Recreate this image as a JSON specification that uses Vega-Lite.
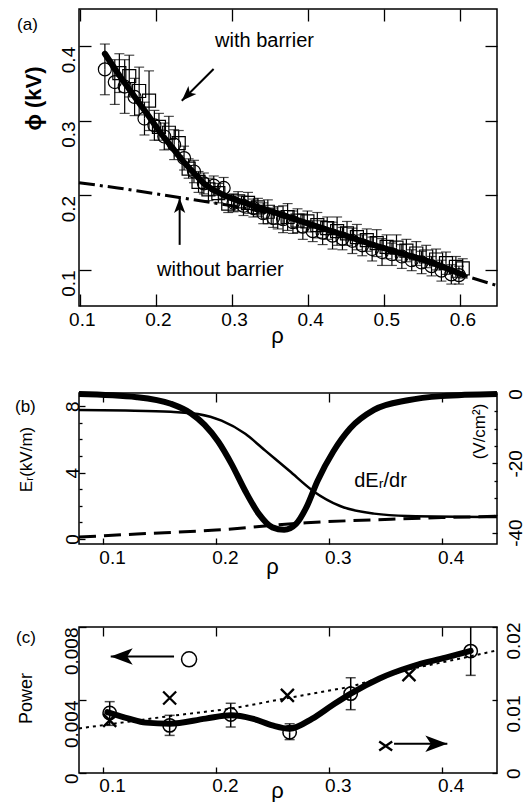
{
  "$schema": "https://vega.github.io/schema/vega-lite/v6.json",
  "padding": {"left": 14, "top": 7, "right": 0, "bottom": 0},
  "config": {
    "font": "Liberation Sans",
    "view": {"stroke": "black", "strokeWidth": 1.5},
    "axis": {"grid": false, "domain": false, "tickColor": "black", "tickWidth": 1.3, "labelColor": "black", "titleColor": "black", "labelFontSize": 19, "labelFont": "Liberation Sans", "titleFont": "Liberation Sans", "titleFontWeight": "normal", "labelOverlap": false, "labelFlush": false},
    "text": {"font": "Liberation Sans", "color": "black"}
  },
  "datasets": {
    "a_pts": [
      {"x":0.133,"y":0.369,"lo":0.335,"hi":0.403,"s":"c"},
      {"x":0.146,"y":0.352,"lo":0.322,"hi":0.382,"s":"c"},
      {"x":0.159,"y":0.346,"lo":0.310,"hi":0.382,"s":"c"},
      {"x":0.172,"y":0.332,"lo":0.307,"hi":0.357,"s":"c"},
      {"x":0.185,"y":0.303,"lo":0.281,"hi":0.325,"s":"c"},
      {"x":0.198,"y":0.294,"lo":0.274,"hi":0.314,"s":"c"},
      {"x":0.211,"y":0.279,"lo":0.261,"hi":0.297,"s":"c"},
      {"x":0.224,"y":0.268,"lo":0.248,"hi":0.288,"s":"c"},
      {"x":0.237,"y":0.250,"lo":0.234,"hi":0.266,"s":"c"},
      {"x":0.250,"y":0.232,"lo":0.217,"hi":0.247,"s":"c"},
      {"x":0.263,"y":0.216,"lo":0.202,"hi":0.230,"s":"c"},
      {"x":0.276,"y":0.213,"lo":0.200,"hi":0.226,"s":"c"},
      {"x":0.289,"y":0.210,"lo":0.196,"hi":0.224,"s":"c"},
      {"x":0.302,"y":0.190,"lo":0.178,"hi":0.202,"s":"c"},
      {"x":0.315,"y":0.186,"lo":0.173,"hi":0.199,"s":"c"},
      {"x":0.328,"y":0.183,"lo":0.171,"hi":0.195,"s":"c"},
      {"x":0.341,"y":0.176,"lo":0.162,"hi":0.190,"s":"c"},
      {"x":0.354,"y":0.170,"lo":0.157,"hi":0.183,"s":"c"},
      {"x":0.367,"y":0.168,"lo":0.150,"hi":0.186,"s":"c"},
      {"x":0.380,"y":0.164,"lo":0.149,"hi":0.179,"s":"c"},
      {"x":0.393,"y":0.158,"lo":0.141,"hi":0.175,"s":"c"},
      {"x":0.406,"y":0.152,"lo":0.138,"hi":0.166,"s":"c"},
      {"x":0.419,"y":0.150,"lo":0.134,"hi":0.166,"s":"c"},
      {"x":0.432,"y":0.146,"lo":0.128,"hi":0.164,"s":"c"},
      {"x":0.445,"y":0.142,"lo":0.127,"hi":0.157,"s":"c"},
      {"x":0.458,"y":0.139,"lo":0.122,"hi":0.156,"s":"c"},
      {"x":0.471,"y":0.133,"lo":0.119,"hi":0.147,"s":"c"},
      {"x":0.484,"y":0.128,"lo":0.112,"hi":0.144,"s":"c"},
      {"x":0.497,"y":0.124,"lo":0.106,"hi":0.142,"s":"c"},
      {"x":0.510,"y":0.121,"lo":0.106,"hi":0.136,"s":"c"},
      {"x":0.523,"y":0.118,"lo":0.102,"hi":0.134,"s":"c"},
      {"x":0.536,"y":0.113,"lo":0.099,"hi":0.127,"s":"c"},
      {"x":0.549,"y":0.110,"lo":0.095,"hi":0.125,"s":"c"},
      {"x":0.562,"y":0.105,"lo":0.092,"hi":0.118,"s":"c"},
      {"x":0.575,"y":0.099,"lo":0.085,"hi":0.113,"s":"c"},
      {"x":0.588,"y":0.094,"lo":0.081,"hi":0.107,"s":"c"},
      {"x":0.598,"y":0.093,"lo":0.081,"hi":0.105,"s":"c"},
      {"x":0.152,"y":0.364,"lo":0.338,"hi":0.390,"s":"s"},
      {"x":0.165,"y":0.360,"lo":0.332,"hi":0.388,"s":"s"},
      {"x":0.178,"y":0.340,"lo":0.308,"hi":0.372,"s":"s"},
      {"x":0.191,"y":0.327,"lo":0.287,"hi":0.367,"s":"s"},
      {"x":0.204,"y":0.292,"lo":0.274,"hi":0.310,"s":"s"},
      {"x":0.217,"y":0.284,"lo":0.262,"hi":0.306,"s":"s"},
      {"x":0.230,"y":0.270,"lo":0.253,"hi":0.287,"s":"s"},
      {"x":0.243,"y":0.236,"lo":0.223,"hi":0.249,"s":"s"},
      {"x":0.256,"y":0.218,"lo":0.204,"hi":0.232,"s":"s"},
      {"x":0.269,"y":0.208,"lo":0.193,"hi":0.223,"s":"s"},
      {"x":0.282,"y":0.203,"lo":0.190,"hi":0.216,"s":"s"},
      {"x":0.295,"y":0.189,"lo":0.177,"hi":0.201,"s":"s"},
      {"x":0.308,"y":0.192,"lo":0.179,"hi":0.205,"s":"s"},
      {"x":0.321,"y":0.190,"lo":0.176,"hi":0.204,"s":"s"},
      {"x":0.334,"y":0.184,"lo":0.172,"hi":0.196,"s":"s"},
      {"x":0.347,"y":0.178,"lo":0.162,"hi":0.194,"s":"s"},
      {"x":0.360,"y":0.170,"lo":0.155,"hi":0.185,"s":"s"},
      {"x":0.373,"y":0.171,"lo":0.153,"hi":0.189,"s":"s"},
      {"x":0.386,"y":0.166,"lo":0.150,"hi":0.182,"s":"s"},
      {"x":0.399,"y":0.165,"lo":0.151,"hi":0.179,"s":"s"},
      {"x":0.412,"y":0.160,"lo":0.143,"hi":0.177,"s":"s"},
      {"x":0.425,"y":0.156,"lo":0.141,"hi":0.171,"s":"s"},
      {"x":0.438,"y":0.152,"lo":0.133,"hi":0.171,"s":"s"},
      {"x":0.451,"y":0.149,"lo":0.133,"hi":0.165,"s":"s"},
      {"x":0.464,"y":0.144,"lo":0.127,"hi":0.161,"s":"s"},
      {"x":0.477,"y":0.140,"lo":0.125,"hi":0.155,"s":"s"},
      {"x":0.490,"y":0.136,"lo":0.118,"hi":0.154,"s":"s"},
      {"x":0.503,"y":0.131,"lo":0.115,"hi":0.147,"s":"s"},
      {"x":0.516,"y":0.130,"lo":0.113,"hi":0.147,"s":"s"},
      {"x":0.529,"y":0.126,"lo":0.111,"hi":0.141,"s":"s"},
      {"x":0.542,"y":0.122,"lo":0.106,"hi":0.138,"s":"s"},
      {"x":0.555,"y":0.118,"lo":0.103,"hi":0.133,"s":"s"},
      {"x":0.568,"y":0.114,"lo":0.100,"hi":0.128,"s":"s"},
      {"x":0.581,"y":0.109,"lo":0.094,"hi":0.124,"s":"s"},
      {"x":0.594,"y":0.104,"lo":0.090,"hi":0.118,"s":"s"},
      {"x":0.603,"y":0.102,"lo":0.089,"hi":0.115,"s":"s"}
    ],
    "a_thick": [
      {"x":0.133,"y":0.390},{"x":0.15,"y":0.364},{"x":0.173,"y":0.331},{"x":0.19,"y":0.307},{"x":0.2045,"y":0.286},{"x":0.22,"y":0.266},{"x":0.2357,"y":0.246},{"x":0.25,"y":0.230},{"x":0.2624,"y":0.2167},{"x":0.28,"y":0.205},{"x":0.298,"y":0.1965},{"x":0.32,"y":0.189},{"x":0.352,"y":0.1785},{"x":0.385,"y":0.167},{"x":0.4185,"y":0.156},{"x":0.452,"y":0.145},{"x":0.4854,"y":0.1336},{"x":0.52,"y":0.123},{"x":0.552,"y":0.1134},{"x":0.58,"y":0.103},{"x":0.6036,"y":0.0932}
    ],
    "a_dd": [
      {"x":0.099,"y":0.217},{"x":0.15,"y":0.210},{"x":0.2,"y":0.202},{"x":0.25,"y":0.194},{"x":0.3,"y":0.186},{"x":0.35,"y":0.176},{"x":0.4,"y":0.162},{"x":0.45,"y":0.147},{"x":0.5,"y":0.130},{"x":0.55,"y":0.112},{"x":0.6,"y":0.094},{"x":0.648,"y":0.079}
    ],
    "a_txt": [
      {"x":0.3426,"y":0.4076,"label":"with barrier"},
      {"x":0.2847,"y":0.0995,"label":"without barrier"}
    ],
    "a_lab": [{"x":0.0176,"y":0.4218,"label":"(a)"}],
    "a_arr": [
      {"x":0.234,"y":0.327,"x2":0.2758,"y2":0.3695,"k":"wb"},
      {"x":0.2312,"y":0.1965,"x2":0.2312,"y2":0.1336,"k":"wob"}
    ],
    "b_thick": [
      {"x":0.0787,"y":0},{"x":0.13,"y":-0.9},{"x":0.16,"y":-2.8},{"x":0.178,"y":-5.6},{"x":0.19,"y":-8.9},{"x":0.202,"y":-13.7},{"x":0.214,"y":-20.3},{"x":0.226,"y":-28},{"x":0.238,"y":-34.6},{"x":0.25,"y":-38.5},{"x":0.2605,"y":-39.2},{"x":0.271,"y":-37.5},{"x":0.28,"y":-32.8},{"x":0.29,"y":-25.1},{"x":0.304,"y":-16.6},{"x":0.319,"y":-9.9},{"x":0.34,"y":-4.6},{"x":0.37,"y":-1.8},{"x":0.40,"y":-0.6},{"x":0.449,"y":0}
    ],
    "b_thin": [
      {"x":0.0787,"y":7.77},{"x":0.12,"y":7.74},{"x":0.16,"y":7.67},{"x":0.184,"y":7.53},{"x":0.205,"y":7.13},{"x":0.226,"y":6.34},{"x":0.244,"y":5.31},{"x":0.265,"y":4.11},{"x":0.286,"y":2.90},{"x":0.31,"y":1.99},{"x":0.34,"y":1.53},{"x":0.37,"y":1.39},{"x":0.449,"y":1.33}
    ],
    "b_dash": [
      {"x":0.0787,"y":0.12},{"x":0.13,"y":0.30},{"x":0.2,"y":0.54},{"x":0.28,"y":0.98},{"x":0.355,"y":1.19},{"x":0.4,"y":1.29},{"x":0.449,"y":1.37}
    ],
    "b_txt": [{"x":0.3458,"y":3.5,"label":"dEᵣ/dr"}],
    "b_lab": [{"x":0.0220,"y":7.655,"label":"(b)"}],
    "c_pts": [
      {"x":0.1059,"y":0.00329,"lo":0.00261,"hi":0.00391},
      {"x":0.159,"y":0.00261,"lo":0.00206,"hi":0.00316},
      {"x":0.2131,"y":0.00321,"lo":0.00252,"hi":0.00382},
      {"x":0.2653,"y":0.00223,"lo":0.00183,"hi":0.0027},
      {"x":0.3194,"y":0.00435,"lo":0.00347,"hi":0.00522},
      {"x":0.4257,"y":0.00668,"lo":0.00535,"hi":0.0082}
    ],
    "c_thick": [
      {"x":0.1038,"y":0.00334},{"x":0.123,"y":0.00298},{"x":0.1378,"y":0.00276},{"x":0.159,"y":0.0027},{"x":0.1909,"y":0.00298},{"x":0.2131,"y":0.00316},{"x":0.2323,"y":0.00298},{"x":0.25,"y":0.00261},{"x":0.2653,"y":0.00243},{"x":0.2854,"y":0.00298},{"x":0.3031,"y":0.00371},{"x":0.3194,"y":0.00435},{"x":0.3445,"y":0.00517},{"x":0.374,"y":0.00585},{"x":0.4035,"y":0.00632},{"x":0.4257,"y":0.00669}
    ],
    "c_x": [
      {"x":0.1059,"y":0.00721},{"x":0.159,"y":0.01027},{"x":0.2633,"y":0.01064},{"x":0.371,"y":0.01347}
    ],
    "c_dot": [
      {"x":0.0787,"y":0.0061},{"x":0.159,"y":0.0078},{"x":0.213,"y":0.0088},{"x":0.265,"y":0.0103},{"x":0.319,"y":0.0118},{"x":0.371,"y":0.0142},{"x":0.426,"y":0.0160},{"x":0.449,"y":0.0168}
    ],
    "c_arrL": [{"x":0.1068,"y":0.00639,"x2":0.1629,"y2":0.00639}],
    "c_legO": [{"x":0.1762,"y":0.00623}],
    "c_arrR": [{"x":0.405,"y":0.00402,"x2":0.3578,"y2":0.00402}],
    "c_legX": [{"x":0.3504,"y":0.0037}],
    "c_lab": [{"x":0.0229,"y":0.007123,"label":"(c)"}]
  },
  "spacing": 87,
  "bounds": "flush",
  "vconcat": [
    {
      "width": 418,
      "height": 297,
      "layer": [
        {
          "encoding": {
            "x": {"field": "x", "type": "quantitative", "scale": {"domain": [0.099, 0.648], "nice": false, "zero": false},
              "axis": {"values": [0.1, 0.2, 0.3, 0.4, 0.5, 0.6], "format": ".1f", "tickSize": -12, "labelPadding": 16.6, "labelOffset": 2, "labelBaseline": "top", "title": "ρ", "titleX": 198, "titleY": 36, "titleAlign": "center", "titleBaseline": "alphabetic", "titleFontSize": 22}},
            "y": {"field": "y", "type": "quantitative", "scale": {"domain": [0.0516, 0.45], "nice": false, "zero": false},
              "axis": {"values": [0.1, 0.2, 0.3, 0.4], "format": ".1f", "labelAngle": 270, "labelAlign": "right", "labelBaseline": "alphabetic", "tickSize": -12, "labelPadding": 17, "title": "ϕ (kV)", "titleX": -46, "titleY": 89, "titleAngle": 270, "titleAlign": "center", "titleBaseline": "middle", "titleFontSize": 22, "titleFontWeight": "bold"}}
          },
          "layer": [
            {"data": {"name": "a_pts"}, "mark": {"type": "rule", "color": "black", "strokeWidth": 1.2},
              "encoding": {"y2": {"field": "hi"}}},
            {"data": {"name": "a_pts"}, "mark": {"type": "rule", "color": "black", "strokeWidth": 1.2},
              "encoding": {"y2": {"field": "lo"}}},
            {"data": {"name": "a_pts"}, "transform": [{"fold": ["lo", "hi"], "as": ["k", "y"]}],
              "mark": {"type": "tick", "orient": "horizontal", "size": 10, "thickness": 1.2, "color": "black"}, "encoding": {}},
            {"data": {"name": "a_pts"}, "mark": {"type": "point", "filled": false, "color": "black", "strokeWidth": 1.2, "size": 169, "opacity": 1},
              "encoding": {"shape": {"field": "s", "type": "nominal", "scale": {"domain": ["c", "s"], "range": ["circle", "square"]}, "legend": null}}},
            {"data": {"name": "a_dd"}, "mark": {"type": "line", "color": "black", "strokeWidth": 3, "strokeDash": [16, 5, 3, 5]}, "encoding": {}},
            {"data": {"name": "a_thick"}, "mark": {"type": "line", "color": "black", "strokeWidth": 6, "interpolate": "monotone", "strokeCap": "round"}, "encoding": {}},
            {"data": {"name": "a_txt"}, "mark": {"type": "text", "fontSize": 20, "align": "center", "baseline": "middle"},
              "encoding": {"text": {"field": "label"}}},
            {"data": {"name": "a_lab"}, "mark": {"type": "text", "fontSize": 17, "align": "left", "baseline": "alphabetic"},
              "encoding": {"text": {"field": "label"}}},
            {"data": {"name": "a_arr"}, "mark": {"type": "rule", "color": "black", "strokeWidth": 2},
              "encoding": {"x2": {"field": "x2"}, "y2": {"field": "y2"}}},
            {"data": {"name": "a_arr"}, "transform": [{"filter": "datum.k == 'wb'"}],
              "mark": {"type": "point", "shape": "M0,0L0.75,2L0,1.5L-0.75,2Z", "filled": true, "color": "black", "size": 225, "angle": 225, "strokeWidth": 0, "opacity": 1}, "encoding": {}},
            {"data": {"name": "a_arr"}, "transform": [{"filter": "datum.k == 'wob'"}],
              "mark": {"type": "point", "shape": "M0,0L0.75,2L0,1.5L-0.75,2Z", "filled": true, "color": "black", "size": 225, "angle": 0, "strokeWidth": 0, "opacity": 1}, "encoding": {}}
          ]
        },
        {
          "data": {"values": [{"x": 0.3, "y": 0.3}]},
          "mark": {"type": "point", "opacity": 0},
          "encoding": {
            "x": {"field": "x", "type": "quantitative", "scale": {"domain": [0.099, 0.648], "nice": false, "zero": false},
              "axis": {"orient": "top", "values": [0.1, 0.2, 0.3, 0.4, 0.5, 0.6], "labels": false, "tickSize": -12, "title": null}},
            "y": {"field": "y", "type": "quantitative", "scale": {"domain": [0.0516, 0.45], "nice": false, "zero": false},
              "axis": {"orient": "right", "values": [0.1, 0.2, 0.3, 0.4], "labels": false, "tickSize": -12, "title": null}}
          }
        }
      ],
      "resolve": {"scale": {"x": "independent", "y": "independent"}}
    },
    {
      "spacing": 83,
      "bounds": "flush",
      "vconcat": [
        {
          "width": 418,
          "height": 151,
          "layer": [
            {
              "encoding": {
                "x": {"field": "x", "type": "quantitative", "scale": {"domain": [0.0787, 0.449], "nice": false, "zero": false},
                  "axis": {"values": [0.1, 0.2, 0.3, 0.4], "format": ".1f", "tickSize": -6, "labelPadding": 10, "labelOffset": 9, "labelBaseline": "top", "title": "ρ", "titleX": 193, "titleY": 29, "titleAlign": "center", "titleBaseline": "alphabetic", "titleFontSize": 22}},
                "y": {"field": "y", "type": "quantitative", "scale": {"domain": [-0.3, 8.8], "nice": false, "zero": false},
                  "axis": {"values": [0, 1, 2, 3, 4, 5, 6, 7, 8], "labelExpr": "datum.value % 4 == 0 ? datum.label : ''", "labelAngle": 270, "labelAlign": "center", "labelBaseline": "alphabetic", "tickSize": {"condition": {"test": "datum.value % 4 == 0", "value": -6}, "value": -3}, "labelPadding": 7, "title": "Eᵣ(kV/m)", "titleX": -53, "titleY": 66, "titleAngle": 270, "titleAlign": "center", "titleBaseline": "middle", "titleFontSize": 17}}
              },
              "layer": [
                {"data": {"name": "b_thin"}, "mark": {"type": "line", "color": "black", "strokeWidth": 2.5, "interpolate": "monotone"}, "encoding": {}},
                {"data": {"name": "b_dash"}, "mark": {"type": "line", "color": "black", "strokeWidth": 3, "strokeDash": [17, 8], "interpolate": "monotone"}, "encoding": {}},
                {"data": {"name": "b_txt"}, "mark": {"type": "text", "fontSize": 20, "align": "center", "baseline": "middle"},
                  "encoding": {"text": {"field": "label"}}},
                {"data": {"name": "b_lab"}, "mark": {"type": "text", "fontSize": 17, "align": "left", "baseline": "alphabetic"},
                  "encoding": {"text": {"field": "label"}}}
              ]
            },
            {
              "data": {"name": "b_thick"},
              "mark": {"type": "line", "color": "black", "strokeWidth": 6, "interpolate": "monotone"},
              "encoding": {
                "x": {"field": "x", "type": "quantitative", "scale": {"domain": [0.0787, 0.449], "nice": false, "zero": false},
                  "axis": {"orient": "top", "values": [0.1, 0.2, 0.3, 0.4], "labels": false, "tickSize": -9, "title": null}},
                "y": {"field": "y", "type": "quantitative", "scale": {"domain": [-43.3, 0.3], "nice": false, "zero": false},
                  "axis": {"orient": "right", "values": [0, -5, -10, -15, -20, -25, -30, -35, -40], "labelExpr": "datum.value % 20 == 0 ? replace(datum.label, '−', '-') : ''", "labelAngle": 270, "labelAlign": "center", "labelBaseline": "top", "tickSize": {"condition": {"test": "datum.value % 20 == 0", "value": -5}, "value": -3}, "labelPadding": 14.6, "title": "(V/cm²)", "titleX": -18, "titleY": 38, "titleAngle": 270, "titleAlign": "center", "titleBaseline": "middle", "titleFontSize": 17}}
              }
            }
          ],
          "resolve": {"scale": {"x": "independent", "y": "independent"}}
        },
        {
          "width": 418,
          "height": 146,
          "layer": [
            {
              "encoding": {
                "x": {"field": "x", "type": "quantitative", "scale": {"domain": [0.0787, 0.449], "nice": false, "zero": false},
                  "axis": {"values": [0.1, 0.2, 0.3, 0.4], "format": ".1f", "tickSize": -6, "labelPadding": 9.3, "labelOffset": 9, "labelBaseline": "top", "title": "ρ", "titleX": 198, "titleY": 24, "titleAlign": "center", "titleBaseline": "alphabetic", "titleFontSize": 22}},
                "y": {"field": "y", "type": "quantitative", "scale": {"domain": [0, 0.008], "nice": false, "zero": false},
                  "axis": {"values": [0, 0.004, 0.008], "labelExpr": "datum.value == 0 ? '0' : format(datum.value, '.3f')", "labelAngle": 270, "labelAlign": "right", "labelBaseline": "alphabetic", "tickSize": -7, "labelPadding": 8.5, "title": "Power", "titleX": -53, "titleY": 71, "titleAngle": 270, "titleAlign": "center", "titleBaseline": "middle", "titleFontSize": 18}}
              },
              "layer": [
                {"data": {"name": "c_pts"}, "mark": {"type": "rule", "color": "black", "strokeWidth": 1.5, "clip": true},
                  "encoding": {"y2": {"field": "hi"}}},
                {"data": {"name": "c_pts"}, "mark": {"type": "rule", "color": "black", "strokeWidth": 1.5, "clip": true},
                  "encoding": {"y2": {"field": "lo"}}},
                {"data": {"name": "c_pts"}, "transform": [{"fold": ["lo", "hi"], "as": ["k", "y"]}],
                  "mark": {"type": "tick", "orient": "horizontal", "size": 10, "thickness": 1.5, "color": "black", "clip": true}, "encoding": {}},
                {"data": {"name": "c_pts"}, "mark": {"type": "point", "shape": "circle", "filled": false, "color": "black", "strokeWidth": 1.5, "size": 180, "opacity": 1}, "encoding": {}},
                {"data": {"name": "c_thick"}, "mark": {"type": "line", "color": "black", "strokeWidth": 6, "interpolate": "monotone", "strokeCap": "round"}, "encoding": {}},
                {"data": {"name": "c_arrL"}, "mark": {"type": "rule", "color": "black", "strokeWidth": 2},
                  "encoding": {"x2": {"field": "x2"}, "y2": {"field": "y2"}}},
                {"data": {"name": "c_arrL"}, "mark": {"type": "point", "shape": "M0,0L0.75,2L0,1.5L-0.75,2Z", "filled": true, "color": "black", "size": 484, "angle": 270, "strokeWidth": 0, "opacity": 1}, "encoding": {}},
                {"data": {"name": "c_legO"}, "mark": {"type": "point", "shape": "circle", "filled": false, "color": "black", "strokeWidth": 1.5, "size": 225, "opacity": 1}, "encoding": {}},
                {"data": {"name": "c_lab"}, "mark": {"type": "text", "fontSize": 17, "align": "left", "baseline": "alphabetic"},
                  "encoding": {"text": {"field": "label"}}}
              ]
            },
            {
              "encoding": {
                "x": {"field": "x", "type": "quantitative", "scale": {"domain": [0.0787, 0.449], "nice": false, "zero": false},
                  "axis": {"orient": "top", "values": [0.1, 0.2, 0.3, 0.4], "labels": false, "tickSize": -9, "title": null}},
                "y": {"field": "y", "type": "quantitative", "scale": {"domain": [0, 0.02], "nice": false, "zero": false},
                  "axis": {"orient": "right", "values": [0, 0.01, 0.02], "labelExpr": "datum.value == 0 ? '0' : format(datum.value, '.2f')", "labelAngle": 270, "labelAlign": "right", "labelBaseline": "top", "labelOffset": -5, "tickSize": -5, "labelPadding": 12.6, "title": null}}
              },
              "layer": [
                {"data": {"name": "c_dot"}, "mark": {"type": "line", "color": "black", "strokeWidth": 2, "strokeDash": [3, 4]}, "encoding": {}},
                {"data": {"name": "c_x"}, "mark": {"type": "point", "shape": "M-1,-1L1,1M-1,1L1,-1", "filled": false, "color": "black", "strokeWidth": 2.3, "size": 169, "opacity": 1}, "encoding": {}},
                {"data": {"name": "c_legX"}, "mark": {"type": "point", "shape": "M-1,-0.7L1,0.7M-1,0.7L1,-0.7", "filled": false, "color": "black", "strokeWidth": 2.3, "size": 169, "opacity": 1}, "encoding": {}},
                {"data": {"name": "c_arrR"}, "mark": {"type": "rule", "color": "black", "strokeWidth": 2},
                  "encoding": {"x2": {"field": "x2"}, "y2": {"field": "y2"}}},
                {"data": {"name": "c_arrR"}, "mark": {"type": "point", "shape": "M0,0L0.75,2L0,1.5L-0.75,2Z", "filled": true, "color": "black", "size": 484, "angle": 90, "strokeWidth": 0, "opacity": 1}, "encoding": {}}
              ]
            }
          ],
          "resolve": {"scale": {"x": "independent", "y": "independent"}}
        }
      ]
    }
  ]
}
